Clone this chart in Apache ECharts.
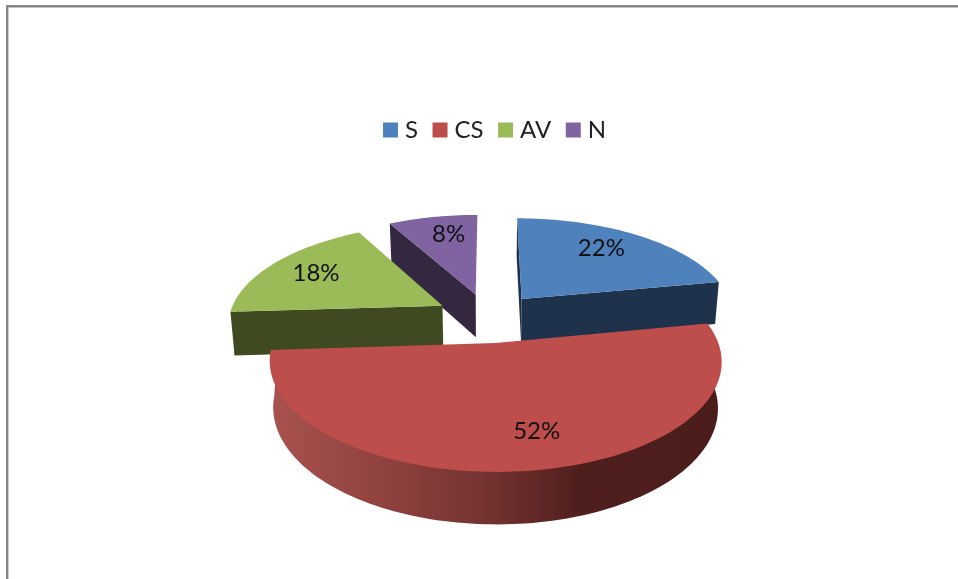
<!DOCTYPE html>
<html>
<head>
<meta charset="utf-8">
<style>html,body{margin:0;padding:0;background:#fff}#c{width:958px;height:579px}</style>
<script src="https://cdn.jsdelivr.net/npm/echarts@6/dist/echarts.min.js"></script>
</head>
<body>
<div id="c"></div>
<script>
// Data
const categories = ['S', 'CS', 'AV', 'N'];
const values = [22, 52, 18, 8];

// Styles
const topColors = ['#4F81BD', '#BE4E4B', '#9BBB59', '#8064A2'];
const wallColors = ['#1F324B', '#4E1F1D', '#3F4A21', '#33283F'];
const paintOrder = ['N', 'S', 'AV', 'CS'];
const labelAngleTweak = { S: -3.6, CS: -5.2, AV: 0, N: 2.5 };

// Pie view model (a tilted, perspective-projected pie)
const VIEW = { cx: 488.5, cy: 317.5, rx: 214, ry: 99, persp: 0.16, depth: 44, baseScale: 0.984, explode: 0.25, labelR: 0.74 };
const FONT = 'Lato, "Open Sans", sans-serif';

const total = values.reduce((a, b) => a + b, 0);
const rad = d => d * Math.PI / 180;

function project(u, v) {
  const s = 1 / (1 - VIEW.persp * v);
  return [VIEW.cx + VIEW.rx * u * s, VIEW.cy + VIEW.ry * v * s, s];
}
function under(p) {
  return [
    VIEW.cx + (p[0] - VIEW.cx) * VIEW.baseScale,
    VIEW.cy + (p[1] - VIEW.cy) * VIEW.baseScale + VIEW.depth * p[2]
  ];
}
function sector(index) {
  const before = values.slice(0, index).reduce((a, b) => a + b, 0);
  const a0 = before / total * 360;
  const a1 = (before + values[index]) / total * 360;
  const mid = (a0 + a1) / 2;
  return {
    a0, a1, mid,
    ou: VIEW.explode * Math.sin(rad(mid)),
    ov: -VIEW.explode * Math.cos(rad(mid))
  };
}
function rimPoint(sec, deg, r) {
  return project(sec.ou + r * Math.sin(rad(deg)), sec.ov - r * Math.cos(rad(deg)));
}
function arcPoints(sec, from, to, r) {
  const pts = [];
  const n = Math.max(2, Math.ceil((to - from) / 1.5));
  for (let i = 0; i <= n; i++) pts.push(rimPoint(sec, from + (to - from) * i / n, r));
  return pts;
}
const xy = p => [p[0], p[1]];

function renderSlice(params, api) {
  const index = categories.indexOf(params.seriesName);
  const sec = sector(index);
  const apex = project(sec.ou, sec.ov);
  const wall = wallColors[index];
  const children = [];

  // Radial walls that face the viewer
  const visibleWalls = [];
  if (Math.sin(rad(sec.a0)) <= 1e-9) visibleWalls.push(sec.a0);
  if (Math.sin(rad(sec.a1)) > 1e-9) visibleWalls.push(sec.a1);
  visibleWalls.forEach(deg => {
    const rim = rimPoint(sec, deg, 1);
    children.push({
      type: 'polygon',
      shape: { points: [xy(apex), xy(rim), under(rim), under(apex)] },
      style: { fill: wall }
    });
  });

  // Outer wall, front-facing part only; its upper edge tucks under the top face
  const f0 = Math.max(sec.a0, 90), f1 = Math.min(sec.a1, 270);
  if (f1 > f0) {
    const inner = arcPoints(sec, f0, f1, 0.97);
    const outer = arcPoints(sec, f0, f1, 1);
    const fill = categories[index] === 'CS'
      ? new echarts.graphic.LinearGradient(1, 0, 0, 0, [
          { offset: 0, color: '#4A1D1B' },
          { offset: 0.31, color: '#4F1F1D' },
          { offset: 0.49, color: '#6F302E' },
          { offset: 0.71, color: '#8B3F3C' },
          { offset: 1, color: '#A8524F' }
        ])
      : wall;
    children.push({
      type: 'polygon',
      shape: { points: inner.map(xy).concat(outer.slice().reverse().map(under)) },
      style: { fill: fill }
    });
  }

  // Top face
  children.push({
    type: 'polygon',
    shape: { points: [xy(apex)].concat(arcPoints(sec, sec.a0, sec.a1, 1).map(xy)) },
    style: { fill: topColors[index] }
  });

  // Percentage label
  const la = sec.mid + labelAngleTweak[categories[index]];
  const lp = rimPoint(sec, la, VIEW.labelR);
  children.push({
    type: 'text',
    style: {
      text: Math.round(api.value(0) / total * 100) + '%',
      x: lp[0], y: lp[1],
      align: 'center', verticalAlign: 'middle',
      font: '24px ' + FONT, fill: '#111'
    }
  });
  return { type: 'group', children };
}

const chart = echarts.init(document.getElementById('c'), null, { renderer: 'canvas' });
chart.setOption({
  animation: false,
  backgroundColor: '#fff',
  legend: {
    data: categories,
    left: 378, top: 113,
    icon: 'rect',
    itemWidth: 15, itemHeight: 15, itemGap: 14.5,
    textStyle: { fontFamily: FONT, fontSize: 24, color: '#222', padding: [0, 0, 0, 2] },
    selectedMode: false
  },
  graphic: [
    { type: 'rect', shape: { x: 6, y: 5, width: 952, height: 2.4 }, style: { fill: '#868686' }, silent: true },
    { type: 'rect', shape: { x: 6, y: 5, width: 2.4, height: 574 }, style: { fill: '#868686' }, silent: true }
  ],
  series: paintOrder.map(name => {
    const i = categories.indexOf(name);
    return {
      type: 'custom',
      name,
      coordinateSystem: 'none',
      itemStyle: { color: topColors[i] },
      renderItem: renderSlice,
      data: [[values[i]]],
      silent: true
    };
  })
});
</script>
</body>
</html>
